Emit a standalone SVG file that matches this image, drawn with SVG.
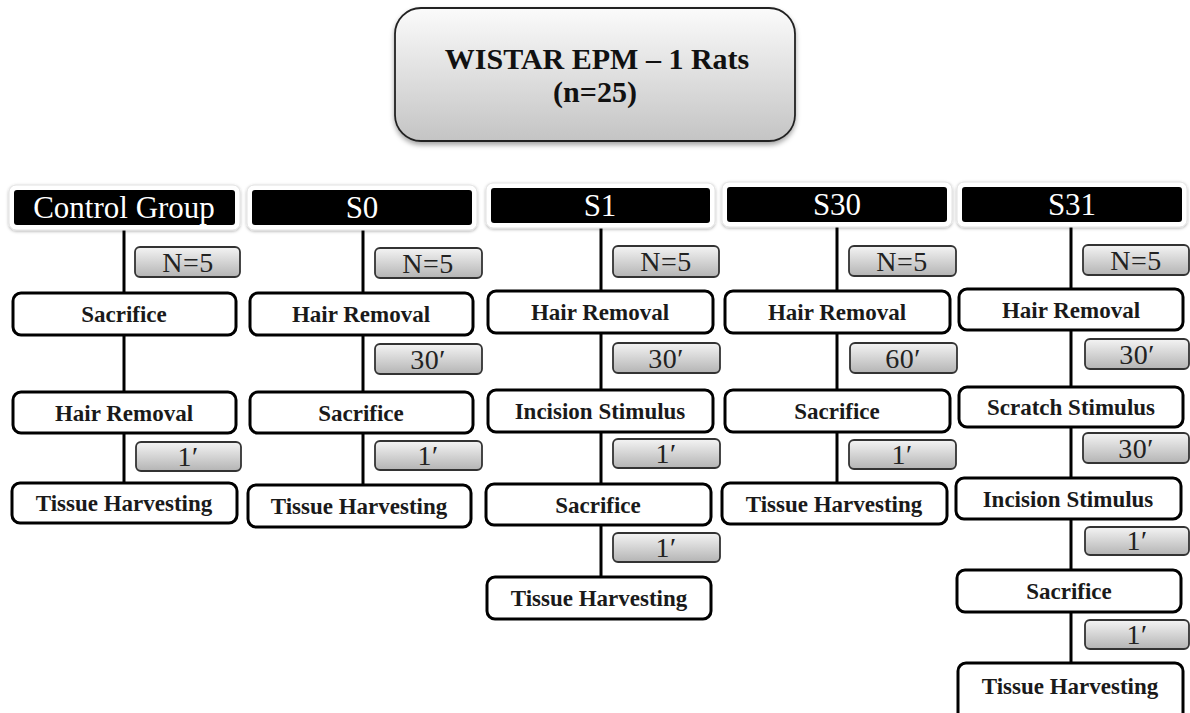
<svg xmlns="http://www.w3.org/2000/svg" width="1190" height="713" viewBox="0 0 1190 713">
<defs>
<linearGradient id="gTop" x1="0" y1="0" x2="0" y2="1"><stop offset="0" stop-color="#fbfbfb"/><stop offset="1" stop-color="#c4c4c4"/></linearGradient>
<linearGradient id="gLab" x1="0" y1="0" x2="0" y2="1"><stop offset="0" stop-color="#f4f4f4"/><stop offset="1" stop-color="#b4b4b4"/></linearGradient>
<filter id="sh" x="-10%" y="-10%" width="120%" height="130%"><feDropShadow dx="0" dy="3" stdDeviation="2.5" flood-color="#000" flood-opacity="0.35"/></filter>
<filter id="glow" x="-5%" y="-20%" width="110%" height="150%"><feDropShadow dx="0" dy="1" stdDeviation="1.5" flood-color="#000" flood-opacity="0.3"/></filter>
</defs>
<style>
.box{fill:#fff;stroke:#000;stroke-width:3}
.lab{fill:url(#gLab);stroke:#333;stroke-width:1.8}
.hdrO{fill:#fff;stroke:#e2e2e2;stroke-width:1}
.hdr{fill:#000}
.t{font-family:"Liberation Serif",serif;font-weight:bold;font-size:23px;text-anchor:middle;fill:#1a1a1a}
.lt{font-family:"Liberation Serif",serif;font-size:28px;letter-spacing:0.5px;text-anchor:middle;fill:#222}
.ht{font-family:"Liberation Serif",serif;font-size:31px;text-anchor:middle;fill:#fff}
.tt{font-family:"Liberation Serif",serif;font-weight:bold;font-size:30px;text-anchor:middle;fill:#111}
.ln{stroke:#000;stroke-width:3;fill:none}
</style>
<rect width="1190" height="713" fill="#fff"/>

<g id="title">
<rect x="395" y="8" width="400" height="133" rx="26" fill="url(#gTop)" stroke="#222" stroke-width="1.8" filter="url(#sh)"/>
<text class="tt" x="597" y="69">WISTAR EPM – 1 Rats</text>
<text class="tt" x="595" y="102">(n=25)</text>
</g>

<g id="connectors">
<line class="ln" x1="124" y1="225" x2="124" y2="484"/>
<line class="ln" x1="363" y1="226" x2="363" y2="486"/>
<line class="ln" x1="601" y1="224" x2="601" y2="578"/>
<line class="ln" x1="837" y1="223" x2="837" y2="484"/>
<line class="ln" x1="1071" y1="222" x2="1071" y2="664"/>
</g>

<g id="hdr-control"><rect class="hdrO" x="9" y="185" width="231" height="45" rx="7" filter="url(#glow)"/><rect class="hdr" x="14" y="190" width="221" height="35" rx="3"/><text class="ht" x="124" y="218">Control Group</text></g>
<g id="hdr-s0"><rect class="hdrO" x="247" y="185" width="230" height="45" rx="7" filter="url(#glow)"/><rect class="hdr" x="252" y="190" width="220" height="35" rx="3"/><text class="ht" x="362" y="218">S0</text></g>
<g id="hdr-s1"><rect class="hdrO" x="486" y="183" width="229" height="45" rx="7" filter="url(#glow)"/><rect class="hdr" x="491" y="188" width="219" height="35" rx="3"/><text class="ht" x="600" y="216">S1</text></g>
<g id="hdr-s30"><rect class="hdrO" x="722" y="182" width="230" height="45" rx="7" filter="url(#glow)"/><rect class="hdr" x="727" y="187" width="220" height="35" rx="3"/><text class="ht" x="837" y="215">S30</text></g>
<g id="hdr-s31"><rect class="hdrO" x="957" y="182" width="230" height="45" rx="7" filter="url(#glow)"/><rect class="hdr" x="962" y="187" width="220" height="35" rx="3"/><text class="ht" x="1072" y="215">S31</text></g>

<!-- Control -->
<g id="c-n"><rect class="lab" x="135" y="247" width="105" height="30" rx="5"/><text class="lt" x="188" y="272">N=5</text></g>
<g id="c-sac"><rect class="box" x="13" y="293" width="223" height="42" rx="8"/><text class="t" x="124" y="322">Sacrifice</text></g>
<g id="c-hair"><rect class="box" x="13" y="392" width="223" height="41" rx="8"/><text class="t" x="124" y="421">Hair Removal</text></g>
<g id="c-1"><rect class="lab" x="136" y="442" width="105" height="29" rx="5"/><text class="lt" x="188" y="466">1′</text></g>
<g id="c-tis"><rect class="box" x="12" y="483" width="225" height="40" rx="8"/><text class="t" x="124" y="511">Tissue Harvesting</text></g>

<!-- S0 -->
<g id="s0-n"><rect class="lab" x="375" y="248" width="107" height="30" rx="5"/><text class="lt" x="428" y="273">N=5</text></g>
<g id="s0-hair"><rect class="box" x="250" y="293" width="223" height="42" rx="8"/><text class="t" x="361" y="322">Hair Removal</text></g>
<g id="s0-30"><rect class="lab" x="375" y="344" width="107" height="30" rx="5"/><text class="lt" x="428" y="369">30′</text></g>
<g id="s0-sac"><rect class="box" x="250" y="392" width="223" height="41" rx="8"/><text class="t" x="361" y="421">Sacrifice</text></g>
<g id="s0-1"><rect class="lab" x="375" y="441" width="107" height="29" rx="5"/><text class="lt" x="428" y="465">1′</text></g>
<g id="s0-tis"><rect class="box" x="248" y="485" width="223" height="42" rx="8"/><text class="t" x="359" y="514">Tissue Harvesting</text></g>

<!-- S1 -->
<g id="s1-n"><rect class="lab" x="613" y="246" width="106" height="31" rx="5"/><text class="lt" x="666" y="271">N=5</text></g>
<g id="s1-hair"><rect class="box" x="488" y="291" width="225" height="42" rx="8"/><text class="t" x="600" y="320">Hair Removal</text></g>
<g id="s1-30"><rect class="lab" x="613" y="343" width="107" height="30" rx="5"/><text class="lt" x="666" y="368">30′</text></g>
<g id="s1-inc"><rect class="box" x="488" y="390" width="225" height="42" rx="8"/><text class="t" x="600" y="419">Incision Stimulus</text></g>
<g id="s1-1a"><rect class="lab" x="613" y="439" width="107" height="29" rx="5"/><text class="lt" x="666" y="463">1′</text></g>
<g id="s1-sac"><rect class="box" x="486" y="484" width="225" height="41" rx="8"/><text class="t" x="598" y="513">Sacrifice</text></g>
<g id="s1-1b"><rect class="lab" x="613" y="533" width="107" height="29" rx="5"/><text class="lt" x="666" y="557">1′</text></g>
<g id="s1-tis"><rect class="box" x="487" y="577" width="224" height="42" rx="8"/><text class="t" x="599" y="606">Tissue Harvesting</text></g>

<!-- S30 -->
<g id="s30-n"><rect class="lab" x="849" y="246" width="107" height="30" rx="5"/><text class="lt" x="902" y="271">N=5</text></g>
<g id="s30-hair"><rect class="box" x="725" y="291" width="225" height="42" rx="8"/><text class="t" x="837" y="320">Hair Removal</text></g>
<g id="s30-60"><rect class="lab" x="850" y="343" width="107" height="30" rx="5"/><text class="lt" x="903" y="368">60′</text></g>
<g id="s30-sac"><rect class="box" x="725" y="390" width="225" height="42" rx="8"/><text class="t" x="837" y="419">Sacrifice</text></g>
<g id="s30-1"><rect class="lab" x="849" y="440" width="107" height="29" rx="5"/><text class="lt" x="902" y="464">1′</text></g>
<g id="s30-tis"><rect class="box" x="722" y="483" width="225" height="41" rx="8"/><text class="t" x="834" y="512">Tissue Harvesting</text></g>

<!-- S31 -->
<g id="s31-n"><rect class="lab" x="1083" y="245" width="106" height="30" rx="5"/><text class="lt" x="1136" y="270">N=5</text></g>
<g id="s31-hair"><rect class="box" x="959" y="289" width="224" height="41" rx="8"/><text class="t" x="1071" y="318">Hair Removal</text></g>
<g id="s31-30a"><rect class="lab" x="1085" y="339" width="104" height="30" rx="5"/><text class="lt" x="1137" y="364">30′</text></g>
<g id="s31-scr"><rect class="box" x="959" y="387" width="224" height="40" rx="8"/><text class="t" x="1071" y="415">Scratch Stimulus</text></g>
<g id="s31-30b"><rect class="lab" x="1083" y="433" width="106" height="30" rx="5"/><text class="lt" x="1136" y="458">30′</text></g>
<g id="s31-inc"><rect class="box" x="956" y="478" width="225" height="41" rx="8"/><text class="t" x="1068" y="507">Incision Stimulus</text></g>
<g id="s31-1a"><rect class="lab" x="1085" y="527" width="104" height="28" rx="5"/><text class="lt" x="1137" y="550">1′</text></g>
<g id="s31-sac"><rect class="box" x="957" y="570" width="224" height="42" rx="8"/><text class="t" x="1069" y="599">Sacrifice</text></g>
<g id="s31-1b"><rect class="lab" x="1085" y="620" width="104" height="29" rx="5"/><text class="lt" x="1137" y="644">1′</text></g>
<g id="s31-tis"><rect class="box" x="958" y="663" width="225" height="60" rx="8"/><text class="t" x="1070" y="694">Tissue Harvesting</text></g>
</svg>
